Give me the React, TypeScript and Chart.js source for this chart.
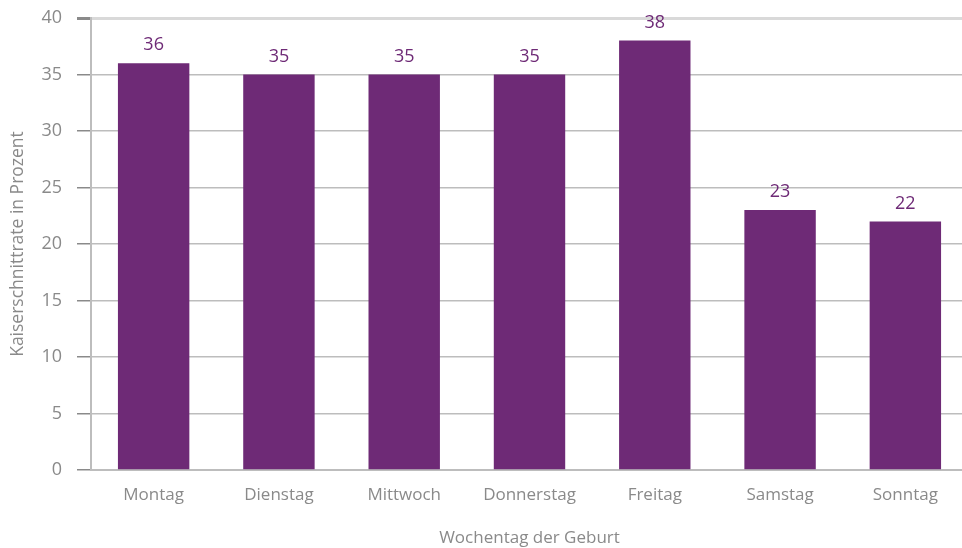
import React, { useEffect, useRef } from "react";
import { Chart, registerables } from "chart.js";

Chart.register(...registerables);

const categories = ["Montag", "Dienstag", "Mittwoch", "Donnerstag", "Freitag", "Samstag", "Sonntag"];
const values = [36, 35, 35, 35, 38, 23, 22];
const yTicks = [0, 5, 10, 15, 20, 25, 30, 35, 40];

const PURPLE = "#6E2A76";
const GREY_TEXT = "#8a8a8a";
const FONT = "'Open Sans', 'Noto Sans', sans-serif";

const labelPlugin = {
  id: "barLabels",
  afterDatasetsDraw(chart: any) {
    const ctx = chart.ctx;
    const meta = chart.getDatasetMeta(0);
    ctx.save();
    ctx.fillStyle = PURPLE;
    ctx.font = `18px ${FONT}`;
    ctx.textAlign = "center";
    ctx.textBaseline = "bottom";
    meta.data.forEach((bar: any, i: number) => {
      ctx.fillText(String(values[i]), bar.x, bar.y - 9);
    });
    ctx.restore();
  },
};

export default function App() {
  const ref = useRef<HTMLCanvasElement>(null);
  useEffect(() => {
    document.body.style.margin = "0";
    const chart = new Chart(ref.current!, {
      type: "bar",
      data: {
        labels: categories,
        datasets: [
          {
            data: values,
            backgroundColor: PURPLE,
            barPercentage: 0.57,
            categoryPercentage: 1,
          },
        ],
      },
      plugins: [labelPlugin],
      options: {
        animation: false,
        responsive: false,
        maintainAspectRatio: false,
        layout: { padding: { top: 18, right: 0, left: 0, bottom: 0 } },
        plugins: { legend: { display: false }, tooltip: { enabled: false } },
        scales: {
          x: {
            grid: { display: false },
            border: { display: true, color: "#bdbdbd", width: 2 },
            ticks: { color: GREY_TEXT, font: { family: FONT, size: 17 }, padding: 7 },
            title: {
              display: true,
              text: "Wochentag der Geburt",
              color: GREY_TEXT,
              font: { family: FONT, size: 17 },
              padding: { top: 14, bottom: 0 },
            },
            afterFit(scale: any) {
              scale.height = 78;
              scale.paddingLeft = 0;
              scale.paddingRight = 0;
            },
          },
          y: {
            min: 0,
            max: 40,
            afterBuildTicks(scale: any) {
              scale.ticks = yTicks.map((v) => ({ value: v }));
            },
            grid: {
              color: (c: any) => (c.tick && c.tick.value === 40 ? "#d9d9d9" : "#bdbdbd"),
              lineWidth: (c: any) => (c.tick && c.tick.value === 40 ? 3 : 1.5),
              tickLength: 14,
              tickColor: "#8a8a8a",
            },
            border: { display: true, color: "#bdbdbd", width: 2 },
            ticks: { color: GREY_TEXT, font: { family: FONT, size: 18 }, padding: 15 },
            title: {
              display: true,
              text: "Kaiserschnittrate in Prozent",
              color: GREY_TEXT,
              font: { family: FONT, size: 17.5 },
              padding: { top: 8, bottom: 0 },
            },
            afterFit(scale: any) {
              scale.width = 91;
              scale.paddingTop = 0;
              scale.paddingBottom = 0;
            },
          },
        },
      },
    });
    return () => chart.destroy();
  }, []);
  return (
    <div style={{ position: "absolute", left: 0, top: 0, width: 962, height: 548, overflow: "hidden" }}>
      <canvas ref={ref} width={968} height={548} style={{ display: "block" }} />
    </div>
  );
}
